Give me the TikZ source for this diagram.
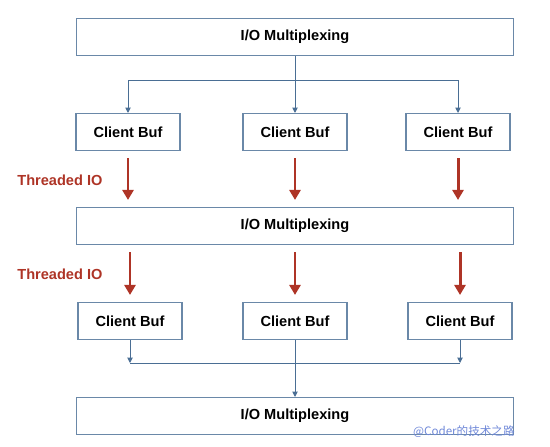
\documentclass[tikz,border=0pt]{standalone}
\usepackage{fontspec}
\setmainfont{Liberation Sans}
\newfontfamily\cjkfont{Noto Sans CJK SC}
\usepackage{xcolor}
\usepackage{tikz}
\usetikzlibrary{arrows.meta,calc}
\definecolor{kutuCizgi}{HTML}{6A88A8}
\definecolor{baglantiMavi}{HTML}{4A6E94}
\definecolor{okKirmizi}{HTML}{AE3426}
\definecolor{filigranMavi}{HTML}{6F88D8}

\begin{document}
\begin{tikzpicture}[x=0.02cm,y=-0.02cm,
  widebox/.style={draw=kutuCizgi,line width=0.6pt,minimum width=8.74cm,minimum height=0.74cm,
    inner sep=0pt,font=\fontsize{8.3}{10}\selectfont\bfseries},
  bufbox/.style={draw=kutuCizgi,line width=0.6pt,minimum width=2.08cm,minimum height=0.74cm,
    inner sep=0pt,font=\fontsize{8.3}{10}\selectfont\bfseries},
  conn/.style={baglantiMavi,line width=0.55pt},
  tip/.style={-{Triangle[length=3pt,width=3pt]}},
  redarrow/.style={okKirmizi,line width=1.7pt,shorten <=0.14cm,shorten >=0.14cm,
    -{Triangle[length=0.2cm,width=0.22cm]}},
  tlabel/.style={okKirmizi,anchor=west,inner sep=0pt,font=\fontsize{8.3}{10}\selectfont\bfseries}]
\useasboundingbox (0,0) rectangle (550,446);
% 1) ust katman
\node[widebox] (mux1) at (295,37) {I/O Multiplexing};
\node[bufbox] (a1) at (128,132) {Client Buf};
\node[bufbox] (a2) at (295,132) {Client Buf};
\node[bufbox] (a3) at (458,132) {Client Buf};
\coordinate (split) at (295,80);
\draw[conn] (mux1.south) -- (split);
\draw[conn,tip] (split) -| (a1.north);
\draw[conn,tip] (split) -| (a3.north);
\draw[conn,tip] (split) -- (a2.north);
% 2) orta katman
\node[widebox] (mux2) at (295,226) {I/O Multiplexing};
\node[tlabel] (t1) at (17,180) {Threaded IO};
\foreach \k in {1,2,3}
  \draw[redarrow] (a\k.south) -- (a\k.south |- mux2.north);
% 3) alt katman
\node[bufbox] (b1) at (130,321) {Client Buf};
\node[bufbox] (b2) at (295,321) {Client Buf};
\node[bufbox] (b3) at (460,321) {Client Buf};
\node[tlabel] (t2) at (17,274) {Threaded IO};
\foreach \k in {1,2,3}
  \draw[redarrow] (b\k.north |- mux2.south) -- (b\k.north);
\node[widebox] (mux3) at (295,416) {I/O Multiplexing};
\coordinate (join) at (295,363);
\draw[conn,tip] (b1.south) -- (b1.south |- join);
\draw[conn,tip] (b3.south) -- (b3.south |- join);
\draw[conn] (b1.south |- join) -- (b3.south |- join);
\draw[conn,tip] (b2.south) -- (mux3.north);
% filigran
\node[filigranMavi,anchor=south east,inner sep=0pt,font=\fontsize{6.6}{7}\selectfont\cjkfont] (wm) at (515,438) {@Coder的技术之路};
\end{tikzpicture}
\end{document}
